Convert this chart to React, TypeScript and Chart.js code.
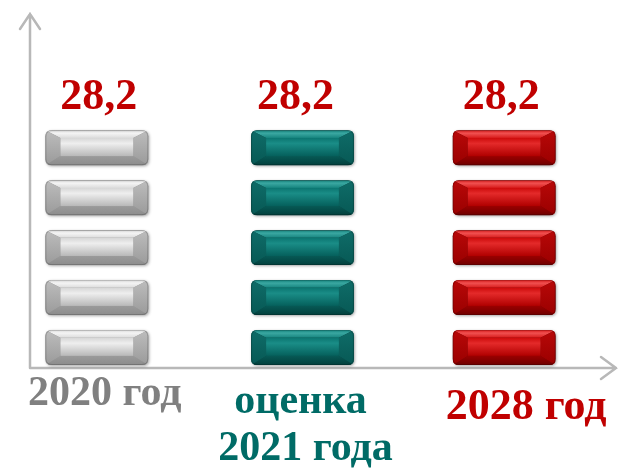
import React, { useEffect, useRef } from "react";
import { Chart, registerables } from "chart.js";
Chart.register(...registerables);

const categories = ["2020 год", "оценка 2021 года", "2028 год"];
const categoryLines = [["2020 год"], ["оценка", "2021 года"], ["2028 год"]];
const values = [28.2, 28.2, 28.2];
const valueLabels = ["28,2", "28,2", "28,2"];
const blocksPerBar = 5;
const yMax = 40;

type Pal = { top: string; top2: string; bottom: string; side: string; side2: string; face1: string; face2: string; face3: string; edge: string };
const palettes: Pal[] = [
  { top: "#f4f4f4", top2: "#dcdcdc", bottom: "#8c8c8c", side: "#bdbdbd", side2: "#9a9a9a", face1: "#eeeeee", face2: "#d6d6d6", face3: "#b8b8b8", edge: "#8a8a8a" },
  { top: "#3aa7a1", top2: "#17857f", bottom: "#023f3c", side: "#0f6c68", side2: "#075955", face1: "#1a8d87", face2: "#0b7570", face3: "#05605c", edge: "#033f3c" },
  { top: "#f05050", top2: "#d81c1c", bottom: "#6e0000", side: "#b80808", side2: "#9a0000", face1: "#e42a2a", face2: "#cc0a0a", face3: "#b00000", edge: "#6a0000" },
];
const labelColors = ["#808080", "#006b66", "#c00000"];
const labelSizes = [42, 42, 44];
const valueColor = "#c00000";
const axisColor = "#b8b8b8";

function roundRectPath(ctx: CanvasRenderingContext2D, x: number, y: number, w: number, h: number, r: number) {
  ctx.beginPath();
  ctx.moveTo(x + r, y);
  ctx.lineTo(x + w - r, y);
  ctx.quadraticCurveTo(x + w, y, x + w, y + r);
  ctx.lineTo(x + w, y + h - r);
  ctx.quadraticCurveTo(x + w, y + h, x + w - r, y + h);
  ctx.lineTo(x + r, y + h);
  ctx.quadraticCurveTo(x, y + h, x, y + h - r);
  ctx.lineTo(x, y + r);
  ctx.quadraticCurveTo(x, y, x + r, y);
  ctx.closePath();
}

function poly(ctx: CanvasRenderingContext2D, pts: number[][], fill: string | CanvasGradient) {
  ctx.beginPath();
  ctx.moveTo(pts[0][0], pts[0][1]);
  for (let i = 1; i < pts.length; i++) ctx.lineTo(pts[i][0], pts[i][1]);
  ctx.closePath();
  ctx.fillStyle = fill;
  ctx.fill();
}

function drawBlock(ctx: CanvasRenderingContext2D, x: number, y: number, w: number, h: number, p: Pal) {
  const r = 6;
  ctx.save();
  ctx.shadowColor = "rgba(0,0,0,0.35)";
  ctx.shadowBlur = 3;
  ctx.shadowOffsetX = 1;
  ctx.shadowOffsetY = 1;
  roundRectPath(ctx, x, y, w, h, r);
  ctx.fillStyle = p.edge;
  ctx.fill();
  ctx.restore();

  ctx.save();
  roundRectPath(ctx, x, y, w, h, r);
  ctx.clip();
  const bx = 15;
  const bt = h * 0.22;
  const bb = h * 0.26;
  const gT = ctx.createLinearGradient(0, y, 0, y + bt);
  gT.addColorStop(0, p.top2);
  gT.addColorStop(0.4, p.top);
  gT.addColorStop(1, p.top2);
  poly(ctx, [[x, y], [x + w, y], [x + w - bx, y + bt], [x + bx, y + bt]], gT);
  const gB = ctx.createLinearGradient(0, y + h - bb, 0, y + h);
  gB.addColorStop(0, p.side2);
  gB.addColorStop(1, p.bottom);
  poly(ctx, [[x, y + h], [x + w, y + h], [x + w - bx, y + h - bb], [x + bx, y + h - bb]], gB);
  const gS = ctx.createLinearGradient(0, y, 0, y + h);
  gS.addColorStop(0, p.side);
  gS.addColorStop(1, p.side2);
  poly(ctx, [[x, y], [x + bx, y + bt], [x + bx, y + h - bb], [x, y + h]], gS);
  poly(ctx, [[x + w, y], [x + w - bx, y + bt], [x + w - bx, y + h - bb], [x + w, y + h]], gS);
  const gF = ctx.createLinearGradient(0, y + bt, 0, y + h - bb);
  gF.addColorStop(0, p.face2);
  gF.addColorStop(0.3, p.face1);
  gF.addColorStop(1, p.face3);
  ctx.fillStyle = gF;
  ctx.fillRect(x + bx, y + bt, w - 2 * bx, h - bt - bb);
  ctx.restore();
  ctx.save();
  roundRectPath(ctx, x + 0.5, y + 0.5, w - 1, h - 1, r);
  ctx.strokeStyle = "rgba(0,0,0,0.18)";
  ctx.lineWidth = 1;
  ctx.stroke();
  ctx.restore();
}

const labelOffsets = [
  { dx: [4], dy: 40 },
  { dx: [-2, 3], dy: 48 },
  { dx: [22], dy: 54 },
];
const valueDx = [2, -7, -3];

const pictoPlugin = {
  id: "picto",
  beforeDatasetsDraw(chart: any) {
    const ctx: CanvasRenderingContext2D = chart.ctx;
    const area = chart.chartArea;
    const ax = area.left + 30;
    const ay = area.bottom + 3;
    ctx.save();
    ctx.strokeStyle = axisColor;
    ctx.lineWidth = 2.5;
    ctx.lineCap = "round";
    ctx.beginPath();
    ctx.moveTo(ax, ay);
    ctx.lineTo(ax, 14);
    ctx.moveTo(ax - 10, 29);
    ctx.lineTo(ax, 14);
    ctx.lineTo(ax + 10, 29);
    ctx.moveTo(ax, ay);
    ctx.lineTo(616, ay);
    ctx.moveTo(601, ay - 11);
    ctx.lineTo(616, ay);
    ctx.lineTo(601, ay + 11);
    ctx.stroke();
    ctx.restore();
  },
  afterDatasetsDraw(chart: any) {
    const ctx: CanvasRenderingContext2D = chart.ctx;
    const meta = chart.getDatasetMeta(0);
    meta.data.forEach((bar: any, i: number) => {
      const { x, y, base, width } = bar.getProps(["x", "y", "base", "width"], true);
      const h = base - y;
      const pitch = h / (blocksPerBar - 0.3);
      const bh = pitch * 0.7;
      const bx0 = i === 0 ? x - 4 : x;
      for (let k = 0; k < blocksPerBar; k++) {
        drawBlock(ctx, bx0 - width / 2, y + k * pitch, width, bh, palettes[i]);
      }
      ctx.save();
      ctx.fillStyle = valueColor;
      ctx.font = "bold 44px 'Liberation Serif', 'Times New Roman', serif";
      ctx.textAlign = "center";
      ctx.textBaseline = "alphabetic";
      ctx.fillText(valueLabels[i], bx0 + valueDx[i], y - 21);
      ctx.restore();
      ctx.save();
      ctx.fillStyle = labelColors[i];
      ctx.font = `bold ${labelSizes[i]}px 'Liberation Serif', 'Times New Roman', serif`;
      ctx.textAlign = "center";
      ctx.textBaseline = "alphabetic";
      const lines = categoryLines[i];
      lines.forEach((ln, j) => {
        ctx.fillText(ln, x + labelOffsets[i].dx[j], base + labelOffsets[i].dy + j * 47);
      });
      ctx.restore();
    });
  },
};

export default function App() {
  const ref = useRef<HTMLCanvasElement | null>(null);
  useEffect(() => {
    if (!ref.current) return;
    const chart = new Chart(ref.current, {
      type: "bar",
      data: {
        labels: categories,
        datasets: [
          {
            data: values,
            backgroundColor: "rgba(0,0,0,0)",
            borderWidth: 0,
            categoryPercentage: 1,
            barPercentage: 0.51,
          },
        ],
      },
      options: {
        animation: false,
        responsive: false,
        maintainAspectRatio: false,
        layout: { padding: { left: 0, right: 24, top: 32, bottom: 111 } },
        plugins: { legend: { display: false }, tooltip: { enabled: false } },
        scales: {
          x: { display: false },
          y: { display: false, min: 0, max: yMax },
        },
      },
      plugins: [pictoPlugin],
    });
    return () => chart.destroy();
  }, []);
  return (
    <div style={{ position: "fixed", left: 0, top: 0, width: 629, height: 476, background: "#fff" }}>
      <canvas ref={ref} width={629} height={476} style={{ width: 629, height: 476 }} />
    </div>
  );
}
